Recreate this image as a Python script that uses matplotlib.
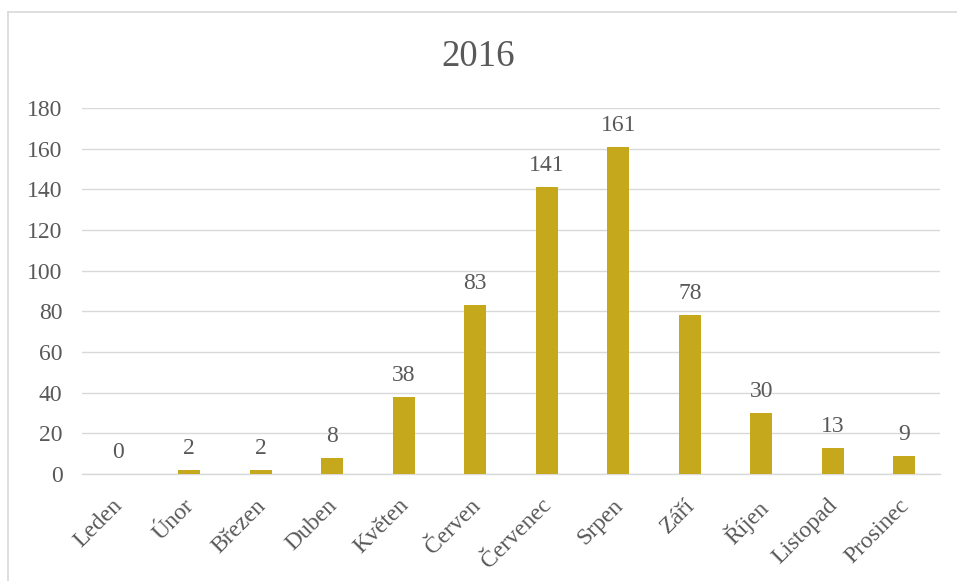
import matplotlib
matplotlib.use("Agg")
import matplotlib.pyplot as plt
import matplotlib.transforms as mtransforms
from matplotlib.lines import Line2D

months = ["Leden", "Únor", "Březen", "Duben", "Květen", "Červen",
          "Červenec", "Srpen", "Září", "Říjen", "Listopad", "Prosinec"]
counts = [0, 2, 2, 8, 38, 83, 141, 161, 78, 30, 13, 9]
y_ticks = [0, 20, 40, 60, 80, 100, 120, 140, 160, 180]
title = "2016"

plt.rcParams["font.family"] = ["Liberation Serif", "DejaVu Serif"]
text_color = "#595959"
bar_color = "#C5A81B"
grid_color = "#D9D9D9"

W, H = 957, 581
fig = plt.figure(figsize=(W / 100, H / 100), dpi=100)

# chart frame: top and left edges
fig.lines.append(Line2D([8 / W, 1.0], [1 - 12 / H, 1 - 12 / H],
                        transform=fig.transFigure, color="#D9D9D9", linewidth=1.2))
fig.lines.append(Line2D([8 / W, 8 / W], [0.0, 1 - 12 / H],
                        transform=fig.transFigure, color="#D9D9D9", linewidth=1.2))

ax = fig.add_axes([82 / W, 1 - 474 / H, 858 / W, 366 / H])
x = list(range(len(months)))
ax.bar(x, counts, width=0.31, color=bar_color, zorder=3)

for xi, v in zip(x, counts):
    ax.annotate(str(v), (xi, v), xytext=(0, 11.5), textcoords="offset points",
                ha="center", va="baseline", fontsize=17, color=text_color)

ax.set_xlim(-0.5, len(months) - 0.5)
ax.set_ylim(0, 180)
ax.set_yticks(y_ticks)
ax.set_yticklabels([str(t) for t in y_ticks], fontsize=17, color=text_color)
ax.set_xticks(x)
ax.set_xticklabels([])

# rotated month labels, anchored just below the category centre
label_trans = (mtransforms.blended_transform_factory(ax.transData, ax.transAxes)
               + mtransforms.ScaledTranslation(-0.055, -0.21, fig.dpi_scale_trans))
for xi, name in zip(x, months):
    ax.text(xi, 0, name, transform=label_trans, rotation=45,
            rotation_mode="anchor", ha="right", va="top",
            fontsize=17, color=text_color)

ax.tick_params(axis="y", length=0, pad=14)
ax.tick_params(axis="x", length=0)
ax.grid(axis="y", color=grid_color, linewidth=1.0, zorder=0)
for s in ["top", "right", "left"]:
    ax.spines[s].set_visible(False)
ax.spines["bottom"].set_color(grid_color)
ax.spines["bottom"].set_linewidth(1.0)

fig.text(0.5, 1 - 57 / H, title, ha="center", va="center",
         fontsize=26.5, color=text_color)

fig.savefig("out.png", dpi=100)
